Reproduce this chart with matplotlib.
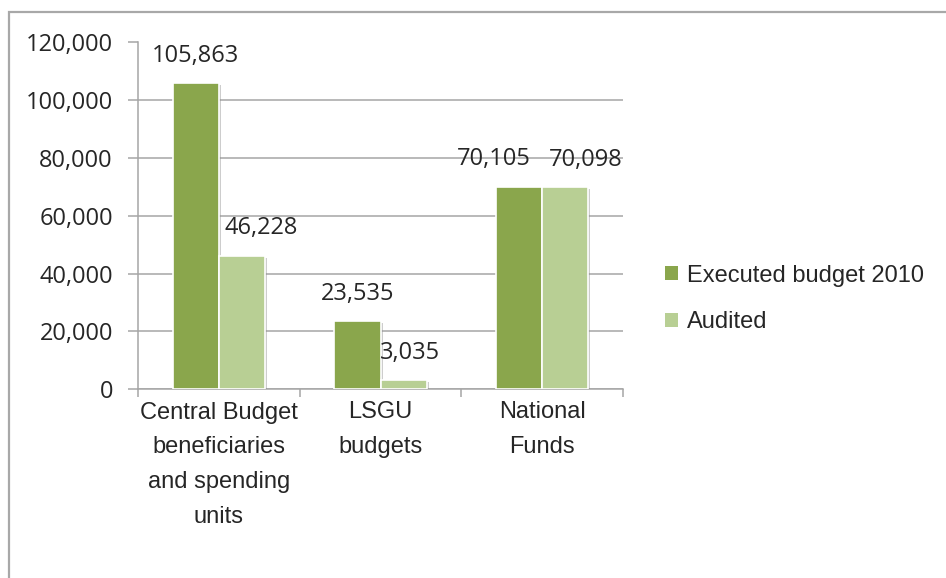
import numpy as np
import matplotlib.pyplot as plt
import matplotlib.patheffects as pe
from matplotlib.patches import Rectangle
from matplotlib.ticker import FuncFormatter

categories = ['Central Budget\nbeneficiaries\nand spending\nunits', 'LSGU\nbudgets', 'National\nFunds']
executed = [105863, 23535, 70105]
audited = [46228, 3035, 70098]
series_names = ['Executed budget 2010', 'Audited']

dark = '#8AA64C'
light = '#B8CF94'
grid_col = '#A6A6A6'
txt_col = '#262626'
num_font = 'Open Sans'
lab_font = 'Liberation Sans'

fig = plt.figure(figsize=(9.46, 5.78), dpi=100)
ax = fig.add_axes([138/946, 1-389/578, 485/946, 346.5/578])

# outer chart border
fig.patches.append(Rectangle((9/946, -0.1), 1.2, 1.1 - 12/578, transform=fig.transFigure,
                             fill=False, edgecolor='#A8A8A8', linewidth=1.6))

x = np.arange(len(categories))
w = 0.285
shadow = [pe.SimplePatchShadow(offset=(1.5, -1.5), shadow_rgbFace='#909090', alpha=0.45), pe.Normal()]
b1 = ax.bar(x - w/2, executed, w, color=dark, edgecolor='white', linewidth=1.2,
            label=series_names[0], zorder=3, path_effects=shadow)
b2 = ax.bar(x + w/2, audited, w, color=light, edgecolor='white', linewidth=1.2,
            label=series_names[1], zorder=3, path_effects=shadow)

# value labels, nudged sideways where they would collide
dx_exec = [0, 0, -25]
dx_aud = [19, 6, 21]
for xi, v, dx in zip(x - w/2, executed, dx_exec):
    ax.annotate(f'{v:,}', (xi, v), xytext=(dx*0.72, 19.5), textcoords='offset points',
                ha='center', va='center', fontsize=17, family=num_font, color=txt_col)
for xi, v, dx in zip(x + w/2, audited, dx_aud):
    ax.annotate(f'{v:,}', (xi, v), xytext=(dx*0.72, 19.5), textcoords='offset points',
                ha='center', va='center', fontsize=17, family=num_font, color=txt_col)

ax.set_xlim(-0.5, 2.5)
ax.set_ylim(0, 120000)
ax.set_yticks(np.arange(0, 120001, 20000))
ax.yaxis.set_major_formatter(FuncFormatter(lambda v, p: f'{int(v):,}'))
ax.grid(axis='y', color=grid_col, linewidth=1.1, zorder=0)
ax.set_axisbelow(True)

ax.set_xticks([-0.5, 0.5, 1.5, 2.5])
ax.set_xticklabels([])
ax.set_xticks(x, minor=True)
ax.set_xticklabels(categories, minor=True, fontsize=17, family=lab_font, color=txt_col,
                   linespacing=1.75, va='top')
ax.tick_params(axis='x', which='minor', length=0, pad=9)
ax.tick_params(axis='x', which='major', length=6, color=grid_col, width=1.1)
ax.tick_params(axis='y', length=7, color=grid_col, width=1.1, pad=11, labelsize=17,
               labelcolor=txt_col)
for t in ax.get_yticklabels():
    t.set_family(num_font)

for s in ['top', 'right']:
    ax.spines[s].set_visible(False)
for s in ['left', 'bottom']:
    ax.spines[s].set_color(grid_col)
    ax.spines[s].set_linewidth(1.1)

leg = ax.legend(loc='center left', bbox_to_anchor=(665/946, 1-299/578), bbox_transform=fig.transFigure,
                frameon=False, prop={'family': lab_font, 'size': 17}, handlelength=0.55,
                handleheight=0.55, handletextpad=0.4, labelspacing=1.04, borderaxespad=0,
                borderpad=0)
for t in leg.get_texts():
    t.set_color(txt_col)
# plain legend swatches, no shadow or white outline
for h in leg.legend_handles:
    h.set_path_effects([])
    h.set_linewidth(0)

fig.savefig('out.png', dpi=100)
